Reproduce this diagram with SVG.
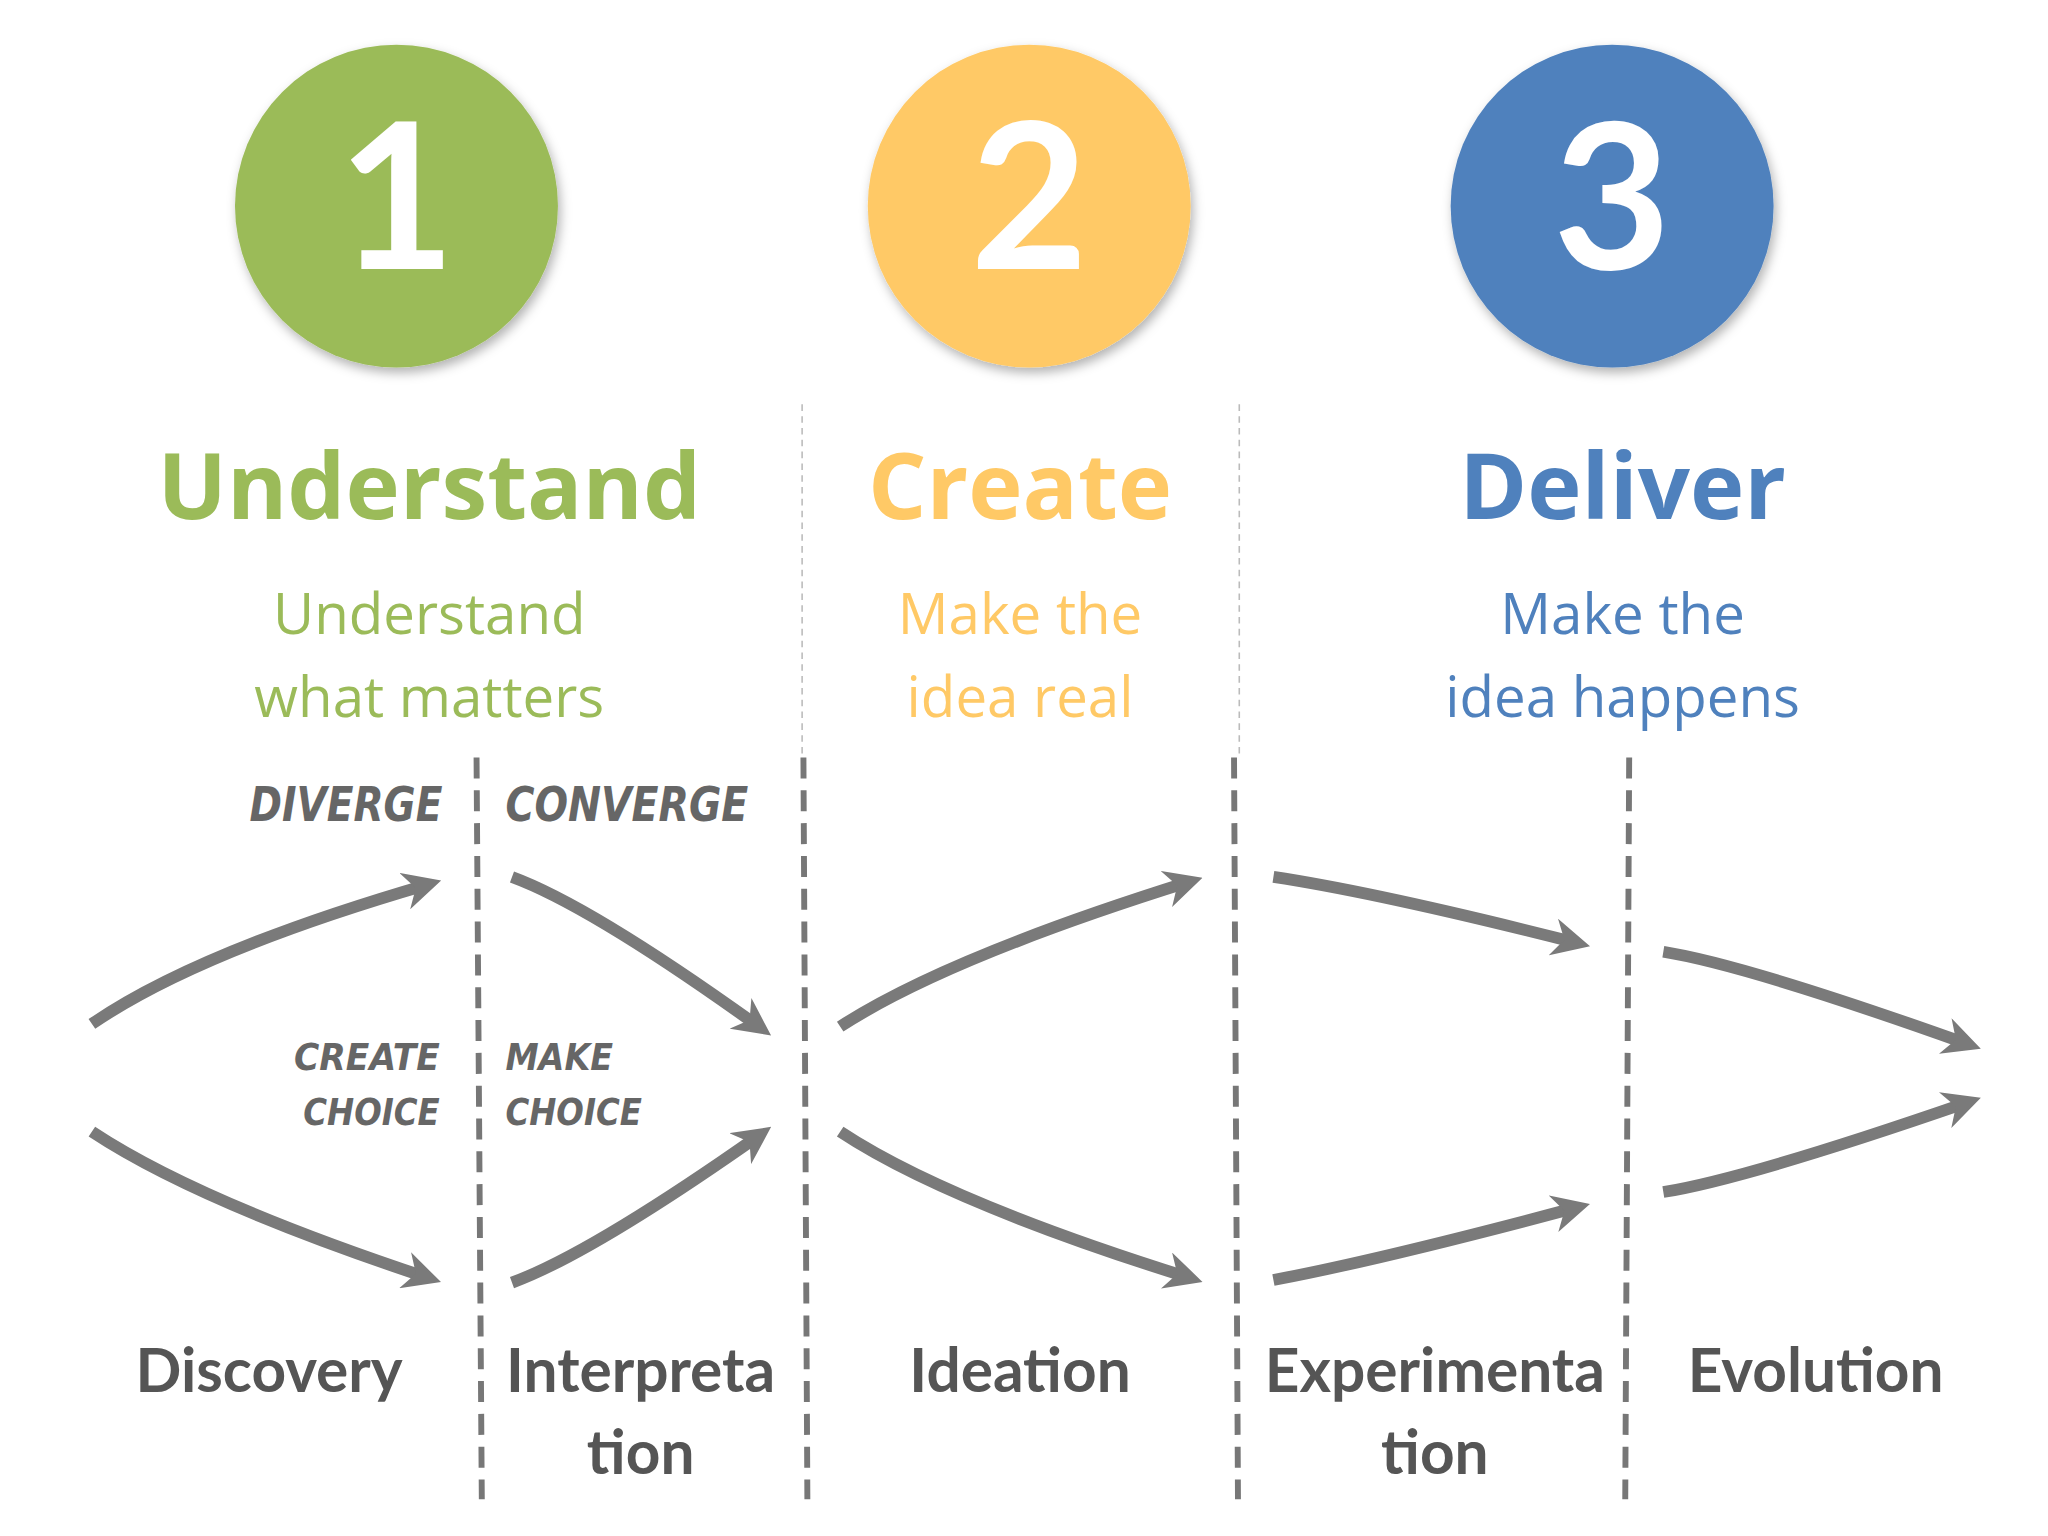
<svg xmlns="http://www.w3.org/2000/svg" width="2048" height="1536" viewBox="0 0 2048 1536">
<defs>
<marker id="ah" viewBox="0 0 10 10" refX="6" refY="5" markerWidth="3.2" markerHeight="3.2" orient="auto" markerUnits="strokeWidth"><path d="M0,0 L10,5 L0,10 L3,5 Z" fill="#7a7a7a"/></marker>
<filter id="sh" x="-20%" y="-20%" width="140%" height="140%"><feDropShadow dx="2" dy="4" stdDeviation="4" flood-opacity="0.3"/></filter>
</defs>
<style>
.num{font-family:Lato,"Open Sans",sans-serif;font-weight:bold;font-size:155px;fill:#fff;text-anchor:middle}
.ttl{font-family:"Open Sans",Lato,sans-serif;font-weight:bold;font-size:70px;text-anchor:middle}
.sub{font-family:"Open Sans",Lato,sans-serif;font-size:43px;text-anchor:middle}
.hand{font-family:"DejaVu Sans",sans-serif;font-weight:bold;font-style:italic;fill:#666}
.bot{font-family:Lato,"Open Sans",sans-serif;font-weight:bold;font-size:46px;fill:#555;text-anchor:middle}
.thin{stroke:#bbb;stroke-width:1.2;stroke-dasharray:5 4;fill:none}
.div{stroke:#777;stroke-width:4.5;stroke-dasharray:16 9;fill:none}
.arr{stroke:#7a7a7a;stroke-width:9;fill:none;marker-end:url(#ah)}
</style>
<rect width="2048" height="1536" fill="#fff"/>
<g transform="scale(1.3128)">
<g id="n1"><circle cx="302" cy="157" r="123" fill="#9BBB59" filter="url(#sh)"/><text class="num" x="302" y="205">1</text>
<text class="ttl" x="327" y="395" fill="#9BBB59">Understand</text>
<text class="sub" x="327" y="483" fill="#9BBB59">Understand</text><text class="sub" x="327" y="546" fill="#9BBB59">what matters</text></g>
<g id="n2"><circle cx="784" cy="157" r="123" fill="#FFC966" filter="url(#sh)"/><text class="num" x="784" y="205">2</text>
<text class="ttl" x="777" y="395" fill="#FFC966">Create</text>
<text class="sub" x="777" y="483" fill="#FFC966">Make the</text><text class="sub" x="777" y="546" fill="#FFC966">idea real</text></g>
<g id="n3"><circle cx="1228" cy="157" r="123" fill="#4F81BD" filter="url(#sh)"/><text class="num" x="1228" y="205">3</text>
<text class="ttl" x="1236" y="395" fill="#4F81BD">Deliver</text>
<text class="sub" x="1236" y="483" fill="#4F81BD">Make the</text><text class="sub" x="1236" y="546" fill="#4F81BD">idea happens</text></g>
<g id="labels">
<text class="hand" x="190" y="625" font-size="36" textLength="147" lengthAdjust="spacingAndGlyphs">DIVERGE</text>
<text class="hand" x="385" y="625" font-size="36" textLength="185" lengthAdjust="spacingAndGlyphs">CONVERGE</text>
<text class="hand" x="224" y="815" font-size="29" textLength="111" lengthAdjust="spacingAndGlyphs">CREATE</text>
<text class="hand" x="231" y="857" font-size="29" textLength="104" lengthAdjust="spacingAndGlyphs">CHOICE</text>
<text class="hand" x="385" y="815" font-size="29" textLength="82" lengthAdjust="spacingAndGlyphs">MAKE</text>
<text class="hand" x="385" y="857" font-size="29" textLength="104" lengthAdjust="spacingAndGlyphs">CHOICE</text>
<text class="bot" x="205" y="1060">Discovery</text>
<text class="bot" x="488" y="1060">Interpreta</text><text class="bot" x="488" y="1123">tion</text>
<text class="bot" x="777" y="1060">Ideation</text>
<text class="bot" x="1093" y="1060">Experimenta</text><text class="bot" x="1093" y="1123">tion</text>
<text class="bot" x="1383" y="1060">Evolution</text>
</g>
<g id="connectors">
<path class="thin" d="M611,308 V575 M944,308 V575"/>
<path class="div" d="M363,577 L367,1142 M612,577 L615,1142 M940,577 L943,1142 M1241,577 L1238,1142"/>
<path class="arr" d="M70,780 Q150,725 325,674"/>
<path class="arr" d="M70,862 Q150,915 325,973"/>
<path class="arr" d="M390,668 Q450,690 578,782"/>
<path class="arr" d="M390,977 Q450,955 578,865"/>
<path class="arr" d="M640,782 Q720,730 905,672"/>
<path class="arr" d="M640,862 Q720,915 905,973"/>
<path class="arr" d="M970,668 Q1050,680 1200,718"/>
<path class="arr" d="M970,975 Q1050,960 1200,920"/>
<path class="arr" d="M1267,725 Q1330,735 1498,795"/>
<path class="arr" d="M1267,908 Q1330,898 1498,840"/>
</g>
</g>
</svg>
